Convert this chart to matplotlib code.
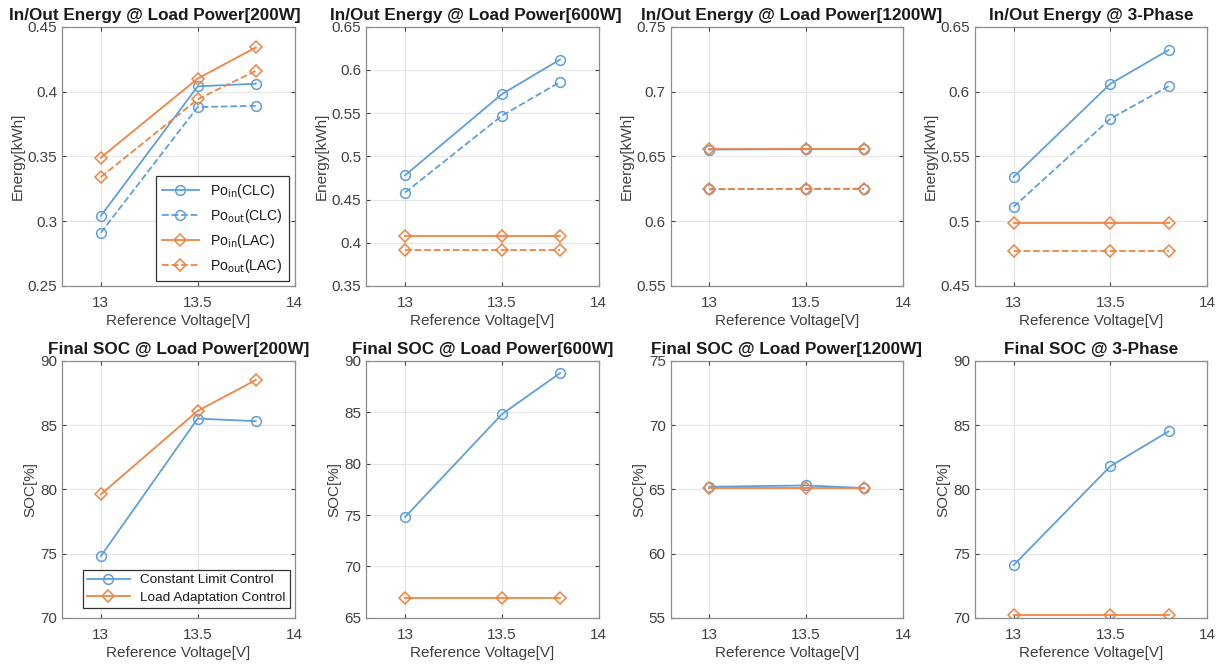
import matplotlib.pyplot as plt

plt.rcParams['font.family'] = ['Liberation Sans', 'DejaVu Sans']

# reference voltage
v_ref = [13, 13.5, 13.8]

titulos = ['200W', '600W', '1200W', '3-Phase']

# energia [kWh]
pin_clc = [[0.304, 0.404, 0.406], [0.478, 0.572, 0.612], [0.6552, 0.6555, 0.6556], [0.534, 0.606, 0.632]]
pout_clc = [[0.291, 0.388, 0.389], [0.458, 0.547, 0.586], [0.6245, 0.625, 0.625], [0.511, 0.579, 0.604]]
pin_lac = [[0.349, 0.410, 0.434], [0.408, 0.408, 0.408], [0.6557, 0.6557, 0.6557], [0.4985, 0.4985, 0.4985]]
pout_lac = [[0.334, 0.394, 0.416], [0.391, 0.391, 0.391], [0.625, 0.625, 0.625], [0.477, 0.477, 0.477]]

# SOC final [%]
soc_clc = [[74.8, 85.5, 85.3], [74.8, 84.8, 88.8], [65.2, 65.3, 65.1], [74.1, 81.8, 84.5]]
soc_lac = [[79.6, 86.1, 88.5], [66.9, 66.9, 66.9], [65.1, 65.1, 65.1], [70.2, 70.2, 70.2]]

e_lims = [(0.25, 0.45), (0.35, 0.65), (0.55, 0.75), (0.45, 0.65)]
e_ticks = [[0.25, 0.3, 0.35, 0.4, 0.45], [0.35, 0.4, 0.45, 0.5, 0.55, 0.6, 0.65],
           [0.55, 0.6, 0.65, 0.7, 0.75], [0.45, 0.5, 0.55, 0.6, 0.65]]
e_labels = [['0.25', '0.3', '0.35', '0.4', '0.45'], ['0.35', '0.4', '0.45', '0.5', '0.55', '0.6', '0.65'],
            ['0.55', '0.6', '0.65', '0.7', '0.75'], ['0.45', '0.5', '0.55', '0.6', '0.65']]
s_lims = [(70, 90), (65, 90), (55, 75), (70, 90)]

# centro horizontal de los titulos de arriba (fraccion del eje)
tit_x = [0.40, 0.47, 0.52, 0.50]

AZUL = '#5E9FDC'
NARANJA = '#EE8543'
GRIS = '#404040'


def formato(ax, titulo, ylabel, xt=0.5):
    ax.set_xlim(12.8, 14)
    ax.set_xticks([13, 13.5, 14])
    ax.set_xticklabels(['13', '13.5', '14'])
    ax.grid(True, color='#e6e6e6', linewidth=0.8)
    ax.set_axisbelow(True)
    for s in ax.spines.values():
        s.set_color('#8c8c8c')
        s.set_linewidth(0.9)
    ax.tick_params(colors=GRIS, labelsize=11, direction='in', length=3, top=True, right=True)
    ax.tick_params(axis='x', pad=7)
    ax.set_title(titulo, fontsize=12.3, fontweight='bold', color='#1a1a1a', pad=5, x=xt)
    ax.set_xlabel('Reference Voltage[V]', fontsize=11, color=GRIS, labelpad=3)
    ax.set_ylabel(ylabel, fontsize=11, color=GRIS, labelpad=2)


def estilo_leyenda(leg):
    leg.get_frame().set_linewidth(0.9)
    for t in leg.get_texts():
        t.set_color('#1a1a1a')


fig = plt.figure(figsize=(12.17, 6.68), dpi=100)
lefts = [0.051, 0.301, 0.551, 0.801]
mk_o = dict(markersize=7, markerfacecolor='none', markeredgewidth=1.1, linewidth=1.3)
mk_d = dict(markersize=6, markerfacecolor='none', markeredgewidth=1.1, linewidth=1.3)

for i in range(4):
    ax = fig.add_axes([lefts[i], 0.572, 0.191, 0.388])
    ax.plot(v_ref, pin_clc[i], '-o', color=AZUL, label=r'Po$_{\rm in}$(CLC)', **mk_o)
    ax.plot(v_ref, pout_clc[i], '--o', color=AZUL, label=r'Po$_{\rm out}$(CLC)', **mk_o)
    ax.plot(v_ref, pin_lac[i], '-D', color=NARANJA, label=r'Po$_{\rm in}$(LAC)', **mk_d)
    ax.plot(v_ref, pout_lac[i], '--D', color=NARANJA, label=r'Po$_{\rm out}$(LAC)', **mk_d)
    ax.set_ylim(*e_lims[i])
    ax.set_yticks(e_ticks[i])
    ax.set_yticklabels(e_labels[i])
    if i < 3:
        titulo = 'In/Out Energy @ Load Power[' + titulos[i] + ']'
    else:
        titulo = 'In/Out Energy @ 3-Phase'
    formato(ax, titulo, 'Energy[kWh]', tit_x[i])
    if i == 0:
        leg = ax.legend(loc='lower right', bbox_to_anchor=(0.975, 0.02), fontsize=10.2,
                        fancybox=False, edgecolor='#333333', framealpha=1, handlelength=2.6,
                        borderaxespad=0.0, labelspacing=0.5)
        estilo_leyenda(leg)

for i in range(4):
    ax = fig.add_axes([lefts[i], 0.075, 0.191, 0.385])
    ax.plot(v_ref, soc_clc[i], '-o', color=AZUL, label='Constant Limit Control', **mk_o)
    ax.plot(v_ref, soc_lac[i], '-D', color=NARANJA, label='Load Adaptation Control', **mk_d)
    ax.set_ylim(*s_lims[i])
    ax.set_yticks(range(s_lims[i][0], s_lims[i][1] + 1, 5))
    if i < 3:
        titulo = 'Final SOC @ Load Power[' + titulos[i] + ']'
    else:
        titulo = 'Final SOC @ 3-Phase'
    formato(ax, titulo, 'SOC[%]')
    if i == 0:
        leg = ax.legend(loc='lower right', bbox_to_anchor=(0.98, 0.04), fontsize=9.7,
                        fancybox=False, edgecolor='#333333', framealpha=1, handlelength=3.2,
                        borderaxespad=0.0, labelspacing=0.35, borderpad=0.3)
        estilo_leyenda(leg)

fig.savefig('out.png', dpi=100)
